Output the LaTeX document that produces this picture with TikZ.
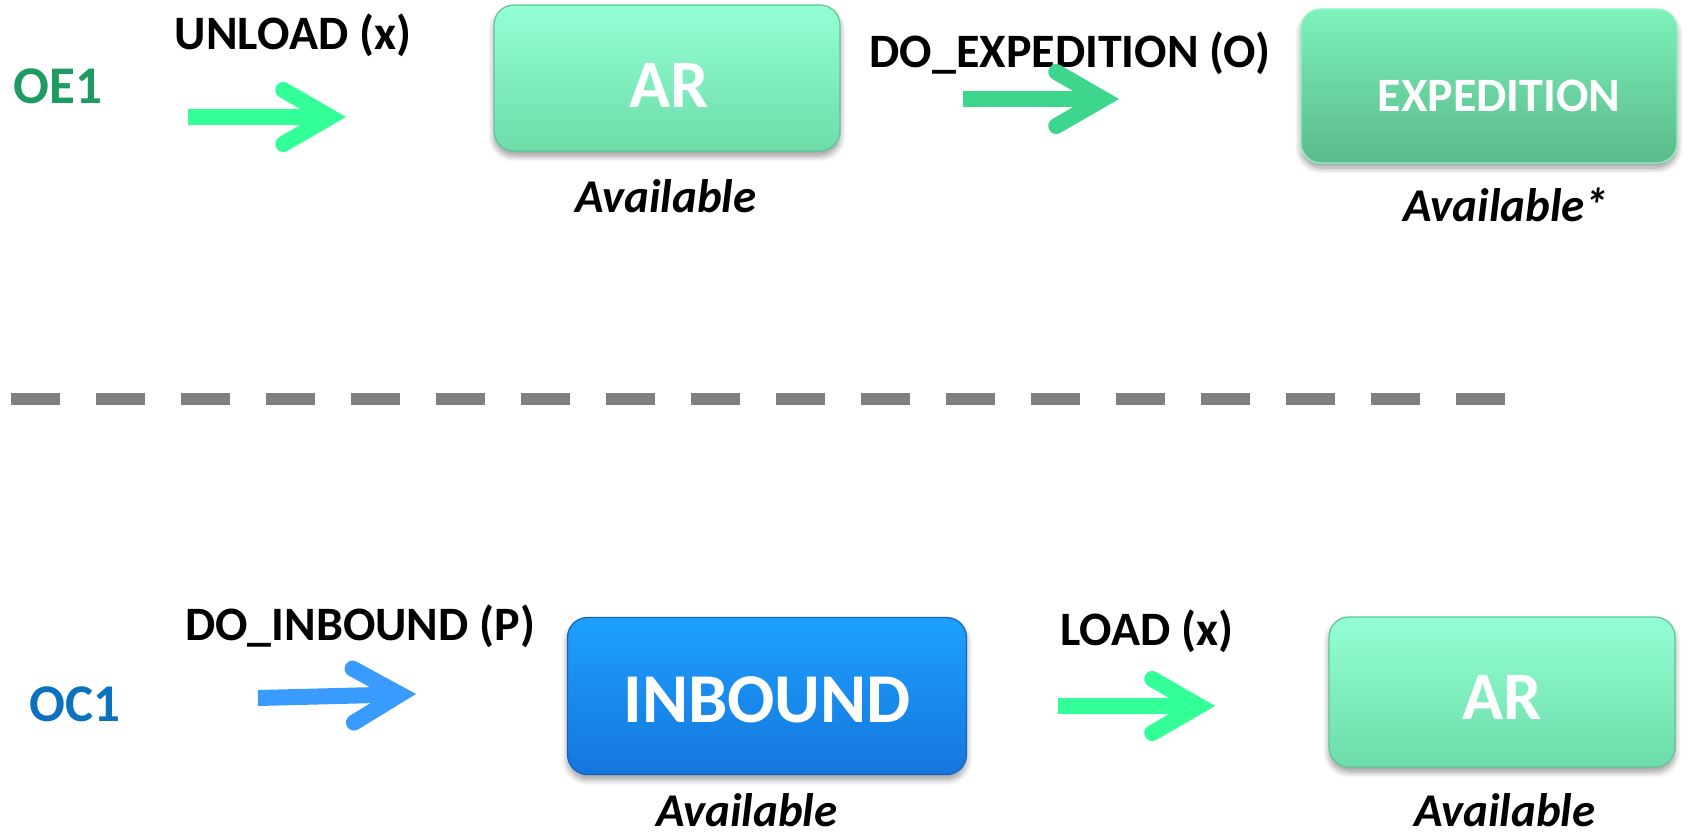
\documentclass[tikz,border=0pt]{standalone}
\usepackage{fontspec}
\setmainfont{Carlito}
\usetikzlibrary{calc,shadows.blur}

\definecolor{mintTop}{HTML}{94FFD4}
\definecolor{mintBot}{HTML}{6CDCA9}
\definecolor{mintEdge}{HTML}{5FC596}
\definecolor{expTop}{HTML}{7CF2BB}
\definecolor{expBot}{HTML}{5BB98A}
\definecolor{expEdge}{HTML}{8EF6C6}
\definecolor{blueTop}{HTML}{1EA0FF}
\definecolor{blueBot}{HTML}{1476DC}
\definecolor{blueEdge}{HTML}{1064BC}
\definecolor{arrowMint}{HTML}{33FF99}
\definecolor{arrowSea}{HTML}{3DD68C}
\definecolor{arrowBlue}{HTML}{3A9BFF}
\definecolor{oeGreen}{HTML}{1E9B60}
\definecolor{ocBlue}{HTML}{0B72BE}
\definecolor{sepGray}{HTML}{808080}

% one thick arrow: straight shaft plus an open chevron head
% #1 colour, #2 tail, #3 visible tip
% the mitred corner sticks out 8/sin(30) = 16pt beyond the path's corner
\newcommand{\fatarrow}[3]{%
  \coordinate (fa-t) at #2;
  \coordinate (fa-v) at #3;
  \coordinate (fa-p) at ($(fa-v)!16pt!(fa-t)$);
  \draw[#1, line width=16pt, line cap=butt] (fa-t) -- (fa-p);
  \draw[#1, line width=16pt, line cap=round, line join=miter, miter limit=10]
    ($(fa-p)!54pt!30:(fa-t)$) -- (fa-p) -- ($(fa-p)!54pt!-30:(fa-t)$);
}

\begin{document}
\begin{tikzpicture}[x=1pt,y=-1pt,
  tile/.style={rounded corners=20pt, inner sep=0pt, line width=1.2pt,
    blur shadow={shadow xshift=0pt, shadow yshift=-5pt, shadow blur steps=8,
      shadow blur radius=6pt, shadow opacity=40}},
  mintbox/.style={tile, draw=mintEdge, top color=mintTop, bottom color=mintBot},
  expbox/.style={tile, draw=expEdge, top color=expTop, bottom color=expBot},
  bluebox/.style={tile, draw=blueEdge, top color=blueTop, bottom color=blueBot},
  opname/.style={font=\bfseries\fontsize{48}{48}\selectfont, inner sep=0pt, anchor=base},
  tag/.style={font=\bfseries\fontsize{53}{53}\selectfont, inner sep=0pt, anchor=base},
  inbox/.style={font=\bfseries\fontsize{#1}{#1}\selectfont, text=white, inner sep=0pt, anchor=base},
  state/.style={font=\bfseries\itshape\fontsize{47}{47}\selectfont, inner sep=0pt, anchor=base}]

\useasboundingbox (0,0) rectangle (1707,835);

% ---- upper flow: OE1 ----
\node[tag, text=oeGreen] (oe) at (58,103) {OE1};
\node[opname] (unload) at (293,49) {UNLOAD (x)};
\fatarrow{arrowMint}{(188,117)}{(346,117)}

\node[mintbox, minimum width=346pt, minimum height=146pt] (ar1) at (667,78) {};
\node[inbox=68] (ar1t) at (669,107) {AR};
\node[state] (ar1s) at (666,212) {Available};

\node[opname] (doexp) at (1070,67) {DO\_EXPEDITION (O)};
\fatarrow{arrowSea}{(963,99)}{(1119,99)}

\node[expbox, minimum width=376pt, minimum height=154pt] (exp) at (1489,86) {};
\node[inbox=48] (expt) at (1499,111) {EXPEDITION};
\node[state] (exps) at (1506,221) {Available*};

% ---- separator ----
\coordinate (sepL) at (11,399);
\coordinate (sepR) at (1510,399);
\draw[sepGray, line width=12pt, dash pattern=on 49pt off 36pt] (sepL) -- (sepR);

% ---- lower flow: OC1 ----
\node[tag, text=ocBlue] (oc) at (75,721) {OC1};
\node[opname] (doin) at (360,640) {DO\_INBOUND (P)};
\fatarrow{arrowBlue}{(258,698)}{(416,694)}

\node[bluebox, minimum width=399pt, minimum height=157pt] (inb) at (767,696) {};
\node[inbox=70] (inbt) at (767,722) {INBOUND};
\node[state] (inbs) at (747,826) {Available};

\node[opname] (load) at (1147,645) {LOAD (x)};
\fatarrow{arrowMint}{(1058,706)}{(1215,706)}

\node[mintbox, minimum width=346pt, minimum height=150pt] (ar2) at (1502,692) {};
\node[inbox=68] (ar2t) at (1502,719) {AR};
\node[state] (ar2s) at (1505,826) {Available};

\end{tikzpicture}
\end{document}
